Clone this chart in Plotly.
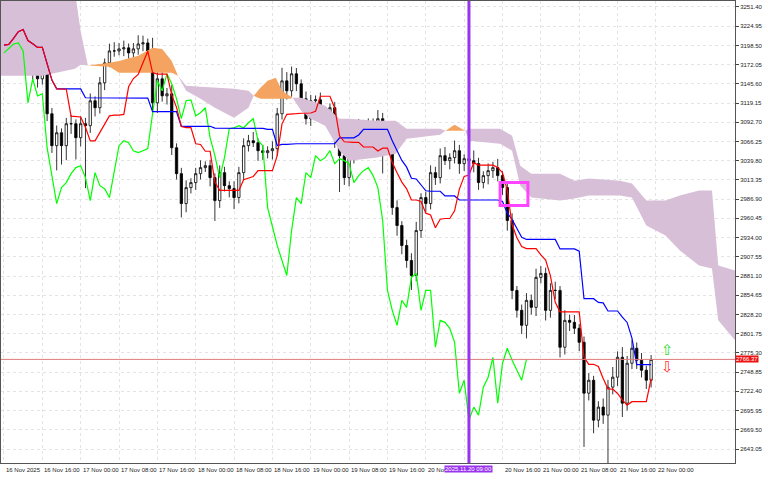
import numpy as np
import pandas as pd
import plotly.graph_objects as go

# ETHUSD H1, bar 0 = 16 Nov 2025 08:00
closes = [
    3201.9, 3204.7, 3218.4, 3239.0, 3245.9, 3167.6, 3160.7, 3152.5, 3163.5, 3104.4,
    3060.5, 3078.3, 3060.5, 3090.7, 3090.7, 3071.5, 3090.7, 3088.0, 3122.3, 3112.7,
    3147.0, 3174.5, 3190.9, 3190.9, 3193.7, 3195.1, 3188.2, 3193.7, 3200.5, 3201.9,
    3190.9, 3119.5, 3152.5, 3129.1, 3131.9, 3057.7, 3022.0, 2980.8, 3002.8, 3009.7,
    3022.0, 3030.3, 3033.0, 3016.5, 2984.9, 3023.4, 3005.5, 3001.4, 2989.1, 3023.4,
    3060.5, 3067.3, 3064.6, 3053.6, 3050.9, 3053.6, 3056.4, 3104.4, 3149.7, 3136.0,
    3159.4, 3145.6, 3125.0, 3097.6, 3122.3, 3123.6, 3101.7, 3105.8, 3112.7, 3071.5,
    3046.7, 3016.5, 3044.0, 3083.8, 3085.2, 3088.0, 3085.2, 3092.0, 3097.6, 3067.3,
    3060.5, 2975.3, 2950.6, 2923.1, 2902.5, 2881.9, 2943.7, 2989.1, 2980.8, 3023.4,
    3016.5, 3046.7, 3039.9, 3044.0, 3053.6, 3035.8, 3042.6, 3039.9, 3035.8, 3009.7,
    3019.3, 3026.1, 3030.3, 3019.3, 3002.8, 2957.5, 2861.3, 2833.9, 2813.3, 2847.6,
    2838.0, 2879.2, 2884.7, 2833.9, 2861.3, 2861.3, 2783.1, 2820.1, 2817.4, 2809.2,
    2789.9, 2719.9, 2737.7, 2682.8, 2700.7, 2689.7, 2728.2, 2741.9, 2769.3, 2706.1,
    2761.1, 2781.7, 2765.2, 2751.5, 2737.7, 2766.37,
]
wick_hi = [
    6, 5, 8, 6, 5, 4, 8, 6, 10, 6,
    8, 10, 6, 8, 12, 6, 10, 8, 10, 6,
    8, 6, 10, 12, 8, 10, 6, 8, 12, 10,
    6, 18, 12, 10, 8, 12, 6, 8, 10, 6,
    8, 10, 6, 8, 6, 10, 8, 6, 10, 8,
    10, 8, 12, 6, 8, 6, 10, 8, 18, 12,
    10, 8, 6, 10, 8, 6, 10, 8, 6, 8,
    10, 6, 8, 10, 12, 8, 10, 6, 12, 8,
    6, 8, 10, 6, 8, 10, 12, 6, 8, 10,
    8, 10, 12, 6, 14, 8, 6, 10, 14, 8,
    6, 10, 8, 12, 6, 8, 10, 6, 8, 10,
    8, 12, 10, 8, 10, 12, 6, 14, 8, 10,
    6, 8, 10, 6, 8, 12, 10, 14, 8, 14,
    10, 11, 8, 10, 6, 6,
]
wick_lo = [
    8, 6, 10, 8, 6, 8, 10, 12, 8, 10,
    10, 34, 26, 20, 14, 30, 12, 86, 10, 12,
    8, 10, 6, 8, 6, 10, 8, 6, 8, 10,
    8, 10, 14, 8, 12, 10, 8, 19, 12, 8,
    10, 8, 6, 12, 28, 10, 8, 12, 16, 8,
    10, 8, 6, 14, 10, 8, 12, 10, 8, 12,
    8, 10, 12, 8, 10, 12, 8, 10, 6, 14,
    50, 10, 12, 8, 10, 6, 8, 12, 10, 45,
    12, 10, 14, 12, 10, 20, 8, 10, 12, 8,
    10, 8, 6, 12, 8, 14, 10, 8, 12, 10,
    8, 12, 10, 8, 10, 14, 12, 10, 12, 18,
    10, 12, 8, 14, 10, 12, 14, 10, 12, 8,
    12, 74, 10, 18, 10, 12, 66, 10, 12, 19,
    10, 8, 12, 10, 12, 10,
]

# cloud segments: (colour, bars, upper, lower)
purple = "rgba(216,191,216,1)"
orange = "rgba(244,164,96,1)"
cloud_segments = [
    (purple, [-1, 8, 14.8, 16, 17.5],
     [3273, 3273, 3273, 3218, 3171],
     [3156.6, 3156.6, 3166.2, 3171.7, 3171]),
    (orange, [17.5, 22, 24, 28, 31, 33, 35, 36.3],
     [3171, 3174.5, 3177.2, 3184.1, 3195.1, 3193.7, 3177.2, 3156.6],
     [3171, 3169, 3160.7, 3160.7, 3160.7, 3160.7, 3160.7, 3156.6]),
    (purple, [36.3, 38, 41, 44, 48, 51, 52.1],
     [3156.6, 3142.9, 3141.5, 3140.1, 3138.7, 3136, 3129.1],
     [3156.6, 3136, 3125, 3112.7, 3098.9, 3112.7, 3129.1]),
    (orange, [52.1, 53.5, 55, 56.7, 58, 59.8, 60.2],
     [3129.1, 3140.1, 3149.7, 3153.9, 3136, 3129.1, 3126.4],
     [3129.1, 3125, 3125, 3125, 3125, 3125, 3126.4]),
    (purple, [60.2, 62, 64, 67, 70, 72, 77.5, 81.7, 84, 91, 92.1],
     [3126.4, 3126.4, 3122.3, 3115.4, 3097.6, 3097.6, 3094.8, 3094.8, 3083.8, 3083.8, 3081.1],
     [3126.4, 3108.5, 3097.6, 3088, 3053.6, 3039.9, 3044, 3049.5, 3070.1, 3075.6, 3081.1]),
    (orange, [92.1, 94, 96.2],
     [3081.1, 3089.3, 3081.1],
     [3081.1, 3081.1, 3081.1]),
    (purple, [96.2, 97, 103.5, 106, 107.7, 110, 116, 119, 122, 128.5, 131, 134, 138, 141, 145,
              147.7, 149, 152.5, 156],
     [3081, 3083.8, 3083.8, 3074.2, 3033, 3022, 3022, 3012.4, 3015.2, 3012.4, 3008.3, 2984.9,
      2984.9, 2991.8, 2998.7, 2998.7, 2895.7, 2888.8, 2888.8],
     [3081, 3067.3, 3063.2, 3053.6, 3005.5, 2989.1, 2984.9, 2987.7, 2991.8, 2991.8, 2989.1,
      2950.6, 2936.9, 2916.3, 2895.7, 2891.6, 2820.1, 2792.7, 2792.7]),
]

tick_bars = list(range(0, 137, 8))
tick_labels = ["16 Nov 2025", "16 Nov 16:00", "17 Nov 00:00", "17 Nov 08:00", "17 Nov 16:00",
               "18 Nov 00:00", "18 Nov 08:00", "18 Nov 16:00", "19 Nov 00:00", "19 Nov 08:00",
               "19 Nov 16:00", "20 Nov 00:00", "20 Nov 08:00", "20 Nov 16:00", "21 Nov 00:00",
               "21 Nov 08:00", "21 Nov 16:00", "22 Nov 00:00"]
price_ticks = [round(2643.05 + 26.45 * k, 2) for k in range(24)]
last_price = 2766.37
marker_bar = 97

FONT = "Liberation Sans"

# --- build OHLC and ichimoku lines
df = pd.DataFrame({"close": closes})
df["open"] = df["close"].shift(1).fillna(df["close"].iloc[0] - 4)
df["high"] = df[["open", "close"]].max(axis=1) + wick_hi
df["low"] = df[["open", "close"]].min(axis=1) - wick_lo
bars = np.arange(len(df))
tenkan = (df["high"].rolling(9, min_periods=1).max() + df["low"].rolling(9, min_periods=1).min()) / 2
kijun = (df["high"].rolling(26, min_periods=1).max() + df["low"].rolling(26, min_periods=1).min()) / 2

fig = go.Figure()

for color, xb, up, lo in cloud_segments:
    fig.add_trace(go.Scatter(x=xb + xb[::-1], y=up + lo[::-1], fill="toself", fillcolor=color,
                             line=dict(width=0), mode="lines", hoverinfo="skip"))

fig.add_trace(go.Scatter(x=bars[26:] - 26, y=df["close"][26:], mode="lines",
                         line=dict(color="#00ff00", width=1.2)))
fig.add_trace(go.Scatter(x=bars, y=kijun, mode="lines", line=dict(color="#0000ff", width=1.2)))
fig.add_trace(go.Scatter(x=bars, y=tenkan, mode="lines", line=dict(color="#ff0000", width=1.2)))

fig.add_trace(go.Candlestick(
    x=bars, open=df["open"], high=df["high"], low=df["low"], close=df["close"],
    increasing=dict(line=dict(color="#000000", width=0.8), fillcolor="#ffffff"),
    decreasing=dict(line=dict(color="#000000", width=0.8), fillcolor="#000000"),
    whiskerwidth=0,
))

fig.add_hline(y=last_price, line=dict(color="#e07a7a", width=1))
fig.add_vline(x=marker_bar, line=dict(color="#9933ee", width=3))
fig.add_shape(type="rect", x0=103.5, x1=109.3, y0=2978.1, y1=3009.7,
              line=dict(color="#ff44ff", width=3))

fig.add_annotation(x=138.5, y=2779, text="⇧", showarrow=False,
                   font=dict(color="#33dd33", size=15, family="DejaVu Sans"))
fig.add_annotation(x=138.5, y=2756, text="⇩", showarrow=False,
                   font=dict(color="#ff3333", size=15, family="DejaVu Sans"))
fig.add_annotation(xref="paper", x=1.0, y=last_price, text="2766.37", showarrow=False,
                   xanchor="left", bgcolor="#ee1111", borderpad=0,
                   font=dict(color="white", size=6, family=FONT))

for b, lab in zip(tick_bars, tick_labels):
    if b == 96:
        continue
    fig.add_annotation(x=b, yref="paper", y=-0.004, text=lab, showarrow=False, xanchor="left",
                       yanchor="top", font=dict(size=6, color="#222", family=FONT))
fig.add_annotation(x=marker_bar, yref="paper", y=-0.004, text="2025.11.20 09:00", showarrow=False,
                   xanchor="center", yanchor="top", bgcolor="#9933ee", borderpad=0,
                   font=dict(size=6, color="white", family=FONT))

fig.update_layout(
    width=768, height=480, showlegend=False,
    margin=dict(l=1, r=33, t=1, b=17),
    plot_bgcolor="white", paper_bgcolor="white",
    font=dict(family=FONT, size=6, color="#222"),
)
fig.update_xaxes(range=[-0.62, 152.5], tickvals=tick_bars, showticklabels=False,
                 showgrid=True, gridcolor="#e4e4e4", griddash="dot",
                 rangeslider=dict(visible=False), showline=True, linecolor="#555", mirror=True,
                 zeroline=False)
fig.update_yaxes(range=[2623.8, 3259.6], side="right", tickvals=price_ticks,
                 ticktext=[f"{p:.2f}" for p in price_ticks], ticks="outside", ticklen=3,
                 showgrid=True, gridcolor="#e4e4e4", griddash="dot",
                 showline=True, linecolor="#555", mirror=True, zeroline=False, automargin=False)

fig.write_html("out.html", config={"displayModeBar": False},
               post_script="document.body.style.margin='0';")
